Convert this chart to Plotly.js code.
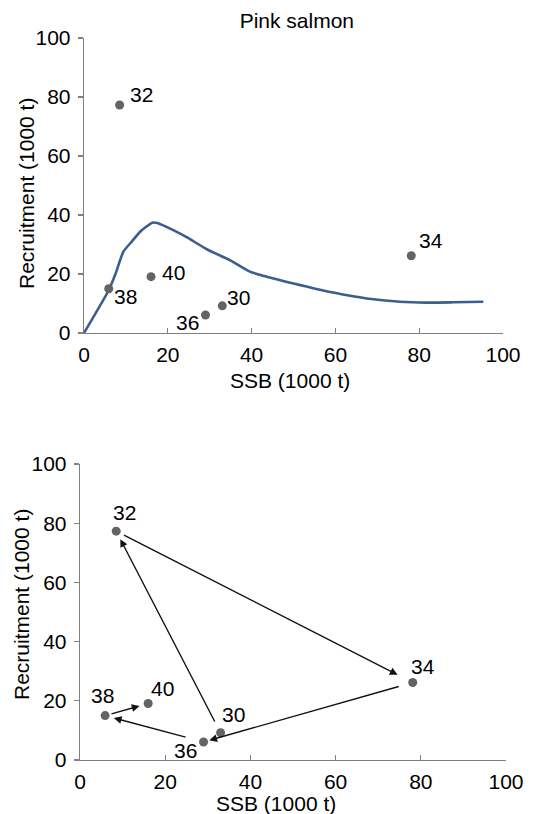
<!DOCTYPE html>
<html>
<head>
<meta charset="utf-8">
<script src="https://cdn.plot.ly/plotly-3.0.1.min.js"></script>
<style>html,body{margin:0;padding:0;background:#fff;}#chart{width:533px;height:814px;}</style>
</head>
<body>
<div id="chart"></div>
<script>
// Data
const years = ['30', '32', '34', '36', '38', '40'];
const ssb = [33.0, 8.5, 78.1, 29.0, 5.9, 16.0];
const recruit = [9.2, 77.3, 26.2, 6.1, 15.0, 19.1];

const curveSSB = [0, 5.9, 7.5, 9.4, 11.4, 13.5, 16.3, 17.5, 21.3, 24.5, 29.3, 34.8, 39.6, 43.6, 50, 59.5, 67.5, 75.4, 81.8, 88, 95.3];
const curveRec = [0, 14.5, 20, 27.6, 31, 34.5, 37.4, 37.3, 34.9, 32.5, 28.4, 24.7, 20.8, 19.1, 16.8, 13.7, 11.7, 10.6, 10.3, 10.4, 10.6];

const xTitle = 'SSB (1000 t)';
const yTitle = 'Recruitment (1000 t)';
const chartTitle = 'Pink salmon';

// label offsets in pixels (style only)
const topShift = {x: [16, 22, 20, -18, 17, 22], y: [8, 10, 15, -7, -8, 4]};
const botShift = {x: [13, 8, 10, -18, -3, 14], y: [18, 19, 16, -9, 20, 15]};
const startOff = [11, 7, 13, 17, 5];
const endOff = [9, 17, 6, 9, 9];

const FONT = '"Liberation Sans", Arial, sans-serif';
const axisCol = '#808080';
const FS = 21;

const traces = [
  {x: curveSSB, y: curveRec, xaxis: 'x', yaxis: 'y', mode: 'lines',
   line: {color: '#3a5e8e', width: 2.6, shape: 'spline', smoothing: 0.5}, hoverinfo: 'skip'},
  {x: ssb, y: recruit, xaxis: 'x', yaxis: 'y', mode: 'markers',
   marker: {color: '#636363', size: 9}},
  {x: ssb, y: recruit, xaxis: 'x2', yaxis: 'y2', mode: 'markers',
   marker: {color: '#636363', size: 9}}
];

const annotations = [];
for (let i = 0; i < years.length; i++) {
  annotations.push({x: ssb[i], y: recruit[i], xref: 'x', yref: 'y', text: years[i], showarrow: false,
    xshift: topShift.x[i], yshift: topShift.y[i], font: {size: FS, color: '#000', family: FONT}});
  annotations.push({x: ssb[i], y: recruit[i], xref: 'x2', yref: 'y2', text: years[i], showarrow: false,
    xshift: botShift.x[i], yshift: botShift.y[i], font: {size: FS, color: '#000', family: FONT}});
}
for (let i = 0; i < years.length - 1; i++) {
  annotations.push({x: ssb[i + 1], y: recruit[i + 1], ax: ssb[i], ay: recruit[i],
    xref: 'x2', yref: 'y2', axref: 'x2', ayref: 'y2', text: '', showarrow: true,
    arrowhead: 2, arrowsize: 1.1, arrowwidth: 1.4, arrowcolor: '#111',
    standoff: endOff[i], startstandoff: startOff[i]});
}
// axis titles placed as paper annotations
const titleFont = {size: FS, color: '#000', family: FONT};
annotations.push({xref: 'paper', yref: 'paper', x: -0.1244, y: 0.7617, text: yTitle, textangle: -90,
  showarrow: false, font: titleFont, xanchor: 'center', yanchor: 'middle'});
annotations.push({xref: 'paper', yref: 'paper', x: -0.136, y: 0.2568, text: yTitle, textangle: -90,
  showarrow: false, font: titleFont, xanchor: 'center', yanchor: 'middle'});
annotations.push({xref: 'paper', yref: 'paper', x: 0.493, y: 0.532, text: xTitle,
  showarrow: false, font: titleFont, xanchor: 'center', yanchor: 'middle'});
annotations.push({xref: 'paper', yref: 'paper', x: 0.46, y: 0.0123, text: xTitle,
  showarrow: false, font: titleFont, xanchor: 'center', yanchor: 'middle'});

function xax(domain, anchor) {
  return {domain: domain, anchor: anchor, range: [0, 100], tickvals: [0, 20, 40, 60, 80, 100],
    showgrid: false, zeroline: false, showline: true, linecolor: axisCol, linewidth: 1.3,
    ticks: 'inside', ticklen: 5, tickcolor: axisCol, tickwidth: 1.3,
    tickfont: {size: FS, color: '#000', family: FONT}, ticklabelstandoff: 2, fixedrange: true};
}
function yax(domain, anchor) {
  return {domain: domain, anchor: anchor, range: [0, 100], tickvals: [0, 20, 40, 60, 80, 100],
    showgrid: false, zeroline: false, showline: true, linecolor: axisCol, linewidth: 1.3,
    ticks: 'outside', ticklen: 5, tickcolor: axisCol, tickwidth: 1.3,
    tickfont: {size: FS, color: '#000', family: FONT}, ticklabelstandoff: 3, fixedrange: true};
}

const layout = {
  width: 533, height: 814,
  margin: {l: 80, r: 27, t: 0, b: 0},
  paper_bgcolor: '#fff', plot_bgcolor: '#fff',
  showlegend: false,
  font: {family: FONT, color: '#000'},
  title: {text: chartTitle, font: {size: FS, color: '#000', family: FONT},
    x: 0.509, xref: 'paper', xanchor: 'center', y: 0.975, yref: 'container', yanchor: 'middle'},
  xaxis: xax([0.0094, 0.993], 'y'),
  yaxis: yax([0.5909, 0.9533], 'x'),
  xaxis2: xax([0, 1], 'y2'),
  yaxis2: yax([0.0663, 0.43], 'x2'),
  annotations: annotations
};

Plotly.newPlot('chart', traces, layout, {displayModeBar: false, staticPlot: true});
</script>
</body>
</html>
